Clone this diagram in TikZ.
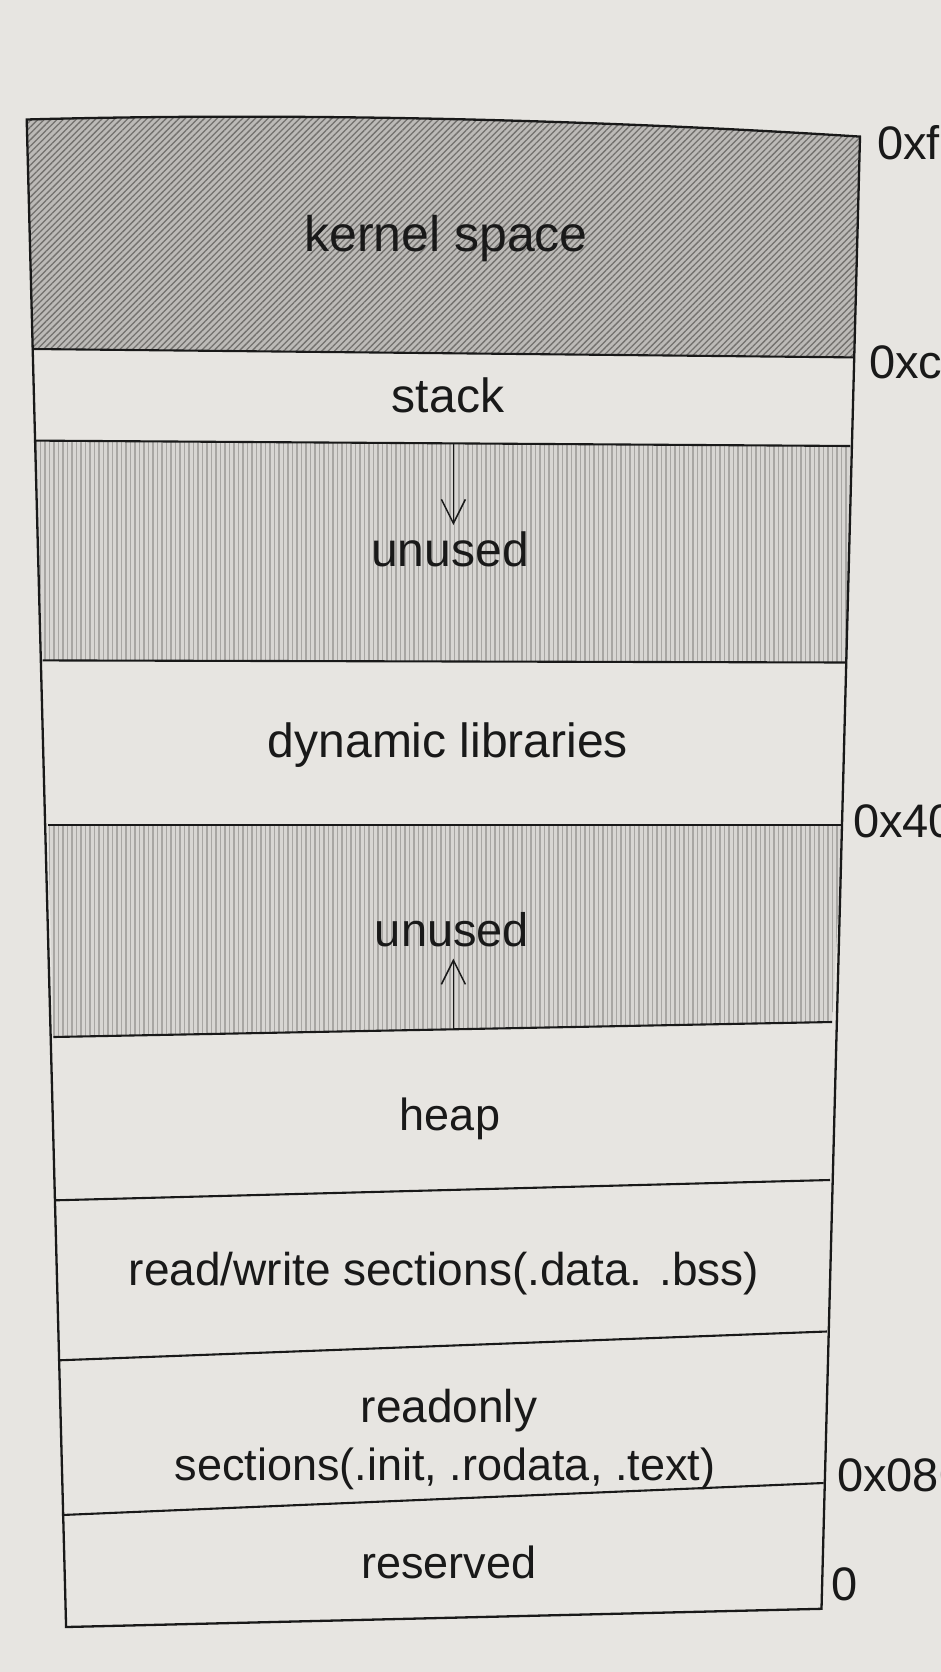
\documentclass[tikz,border=0pt]{standalone}
\usepackage{fontspec}
\setmainfont{Liberation Sans}
\usetikzlibrary{patterns.meta,arrows.meta}
\definecolor{paper}{RGB}{231,229,225}
\definecolor{ink}{RGB}{25,25,25}
\definecolor{kfill}{RGB}{188,186,183}
\definecolor{kline}{RGB}{115,113,110}
\definecolor{ufill}{RGB}{216,214,211}
\definecolor{uline}{RGB}{168,166,163}
\tikzset{
  border/.style={draw=ink,line width=2.3pt,line join=miter},
  sep/.style={draw=ink,line width=2.1pt},
  lbl/.style={anchor=base,inner sep=0pt,text=ink,font=\fontsize{#1}{#1}\selectfont},
  addr/.style={anchor=base west,inner sep=0pt,text=ink,font=\fontsize{47}{47}\selectfont},
  kernelfill/.style={fill=kfill},
  kernelhatch/.style={pattern={Lines[angle=45,distance=4.5pt,line width=1.3pt]},pattern color=kline},
  unusedfill/.style={fill=ufill},
  unusedhatch/.style={pattern={Lines[angle=90,distance=4.5pt,line width=1.1pt]},pattern color=uline},
  growarrow/.style={draw=ink,line width=1.5pt,-{Straight Barb[length=24pt,width=24pt,line width=1.5pt]}}
}
\begin{document}
\begin{tikzpicture}[x=1pt,y=-1pt]
\fill[paper] (0,0) rectangle (941,1672);
\useasboundingbox (0,0) rectangle (941,1672);
% corner / boundary coordinates
\coordinate (TL) at (26.7,119.5);  \coordinate (TR) at (860,136.6);
\coordinate (L1l) at (32,349);     \coordinate (L1r) at (853.5,357.4);
\coordinate (L2l) at (35.2,440.6); \coordinate (L2r) at (850.3,446);
\coordinate (L3l) at (42.7,660.4); \coordinate (L3r) at (846,662.5);
\coordinate (L4l) at (48,824.7);   \coordinate (L4r) at (842.8,824.7);
\coordinate (L5l) at (53.3,1037);  \coordinate (L5r) at (832.2,1022);
\coordinate (L6l) at (55.5,1200.3);\coordinate (L6r) at (830,1180);
\coordinate (L7l) at (58.7,1360.3);\coordinate (L7r) at (826.8,1331.5);
\coordinate (L8l) at (61.9,1515);  \coordinate (L8r) at (823.6,1483);
\coordinate (BL) at (66.1,1627);   \coordinate (BR) at (821.5,1608.8);
% shaded regions
\fill[kernelfill] (TL) .. controls (300,112) and (600,120) .. (TR) -- (L1r) -- (L1l) -- cycle;
\fill[kernelhatch] (TL) .. controls (300,112) and (600,120) .. (TR) -- (L1r) -- (L1l) -- cycle;
\fill[unusedfill] (L2l) -- (L2r) -- (L3r) -- (L3l) -- cycle;
\fill[unusedhatch] (L2l) -- (L2r) -- (L3r) -- (L3l) -- cycle;
\fill[unusedfill] (L4l) -- (L4r) -- (L5r) -- (L5l) -- cycle;
\fill[unusedhatch] (L4l) -- (L4r) -- (L5r) -- (L5l) -- cycle;
% outline and separators
\draw[border] (TL) .. controls (300,112) and (600,120) .. (TR) -- (BR) -- (BL) -- cycle;
\foreach \i in {1,...,8} \draw[sep] (L\i l) -- (L\i r);
% labels
\node[lbl=50] (kernel) at (446,251) {kernel space};
\node[lbl=48] (stack) at (448,412) {stack};
\node[lbl=48] (unused1) at (450,566) {unused};
\node[lbl=48] (dynlib) at (448,757) {dynamic libraries};
\node[lbl=47] (unused2) at (452,946) {unused};
\node[lbl=45] (heap) at (450,1130) {heap};
\node[lbl=46] (rw) at (444,1285) {read/write sections(.data. .bss)};
\node[lbl=46] (ro1) at (449,1422) {readonly};
\node[lbl=45] (ro2) at (445,1480) {sections(.init, .rodata, .text)};
\node[lbl=45] (reserved) at (449,1578) {reserved};
% addresses (cut off by the page edge, as in the photo)
\node[addr] (aF) at (877,160) {0xf};
\node[addr] (aC) at (869,378) {0xc};
\node[addr] (a40) at (853,837) {0x40};
\node[addr] (a080) at (837,1491) {0x080};
\node[addr] (a0) at (831,1600) {0};
% growth arrows
\coordinate (s1) at (453.4,443);
\coordinate (s2) at (453.4,1029);
\draw[growarrow,shorten >=6pt] (s1) -- (s1 |- unused1.north);
\draw[growarrow,shorten >=12pt] (s2) -- (s2 |- unused2.south);
\end{tikzpicture}
\end{document}
